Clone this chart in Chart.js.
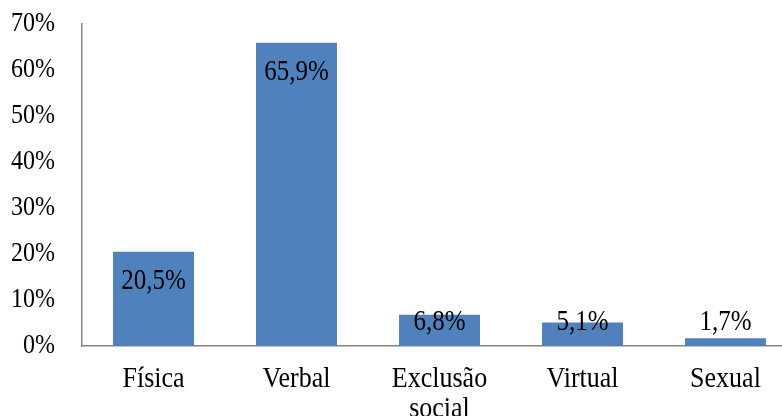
<!DOCTYPE html>
<html>
<head>
<meta charset="utf-8">
<script src="https://cdn.jsdelivr.net/npm/chart.js@4/dist/chart.umd.min.js"></script>
<style>
  html, body { margin: 0; padding: 0; background: #fff; overflow: hidden; }
  #wrap { width: 782px; height: 416px; overflow: hidden; position: relative; }
  #box { width: 797px; height: 416px; position: absolute; left: 0; top: 0; }
</style>
</head>
<body>
<div id="wrap"><div id="box"><canvas id="c"></canvas></div></div>
<script>
// Tipos de violência e percentual de ocorrência
const categories = ['Física', 'Verbal', ['Exclusão', 'social'], 'Virtual', 'Sexual'];
const values = [20.5, 65.9, 6.8, 5.1, 1.7];
const valueLabels = ['20,5%', '65,9%', '6,8%', '5,1%', '1,7%'];
const yTicks = [0, 10, 20, 30, 40, 50, 60, 70];

const FONT = 'Liberation Serif, "Times New Roman", serif';
const TEXT_STRETCH_Y = 1.15; // serif text is drawn a little taller than wide

// Draws all chart text with a slight vertical stretch about its anchor point
const tallText = {
  id: 'tallText',
  beforeDraw(chart) {
    const ctx = chart.ctx;
    if (ctx.__tall) return;
    const orig = ctx.fillText;
    ctx.fillText = function (t, x, y, w) {
      this.save();
      this.translate(x, y);
      this.scale(1, TEXT_STRETCH_Y);
      if (w === undefined) orig.call(this, t, 0, 0); else orig.call(this, t, 0, 0, w);
      this.restore();
    };
    ctx.__tall = true;
  }
};

// Writes each value inside the top of its bar, kept clear of the axis for short bars
const barValueLabels = {
  id: 'barValueLabels',
  afterDatasetsDraw(chart) {
    const { ctx } = chart;
    const meta = chart.getDatasetMeta(0);
    const yZero = chart.scales.y.getPixelForValue(0);
    ctx.save();
    ctx.font = '25px ' + FONT;
    ctx.fillStyle = '#000';
    ctx.textAlign = 'center';
    ctx.textBaseline = 'middle';
    meta.data.forEach((bar, i) => {
      const y = Math.min(bar.y + 30, yZero - 24);
      ctx.fillText(valueLabels[i], bar.x, y);
    });
    ctx.restore();
  }
};

new Chart(document.getElementById('c'), {
  type: 'bar',
  data: {
    labels: categories,
    datasets: [{
      data: values,
      backgroundColor: '#4F81BD',
      borderWidth: 0,
      categoryPercentage: 1,
      barPercentage: 0.566
    }]
  },
  options: {
    responsive: true,
    maintainAspectRatio: false,
    animation: false,
    events: [],
    layout: { padding: { top: 24, left: 0, right: 0, bottom: 0 } },
    plugins: { legend: { display: false }, tooltip: { enabled: false } },
    scales: {
      x: {
        grid: { display: false, drawTicks: false },
        border: { display: true, color: '#868686', width: 1.5 },
        ticks: {
          color: '#000',
          font: { family: FONT, size: 26, lineHeight: 1.12 },
          padding: 19,
          maxRotation: 0,
          autoSkip: false
        },
        afterFit(scale) { scale.height = 70; }
      },
      y: {
        min: 0,
        max: 70,
        afterBuildTicks(scale) { scale.ticks = yTicks.map(v => ({ value: v })); },
        grid: { display: false, drawTicks: false },
        border: { display: true, color: '#868686', width: 1.5 },
        ticks: {
          color: '#000',
          font: { family: FONT, size: 24 },
          padding: 27,
          callback: v => v + '%'
        },
        afterFit(scale) {
          scale.width = 82;
          scale.paddingTop = 0;
          scale.paddingBottom = 0;
        }
      }
    }
  },
  plugins: [tallText, barValueLabels]
});
</script>
</body>
</html>
